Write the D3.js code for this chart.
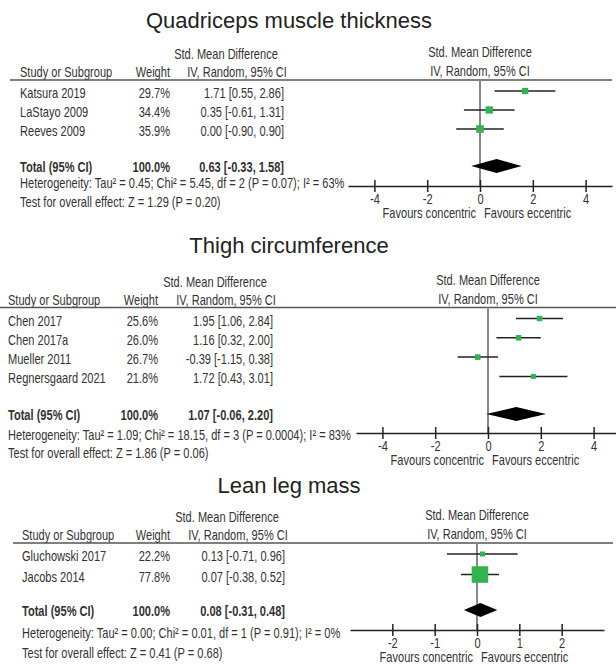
<!DOCTYPE html>
<html>
<head>
<meta charset="utf-8">
<script src="https://cdn.jsdelivr.net/npm/d3@7"></script>
<style>
    body { margin: 0; background: #fff; }
    svg text { fill: #333; }
    .title { font-family: 'Liberation Sans', Arial, sans-serif; font-size: 22px; fill: #222; }
    .cell { font-family: 'Liberation Sans', Arial, sans-serif; font-size: 14px; }
    .bold { font-weight: bold; }
</style>
</head>
<body>
<div id="chart"></div>
<script>

// DATA

var panelTitles = [ 'Quadriceps muscle thickness', 'Thigh circumference', 'Lean leg mass' ];

var quadStudies = [ 'Katsura 2019', 'LaStayo 2009', 'Reeves 2009' ];
var quadWeights = [ 29.7, 34.4, 35.9 ];
var quadSmd     = [ 1.71, 0.35, 0.00 ];
var quadLower   = [ 0.55, -0.61, -0.90 ];
var quadUpper   = [ 2.86, 1.31, 0.90 ];

var thighStudies = [ 'Chen 2017', 'Chen 2017a', 'Mueller 2011', 'Regnersgaard 2021' ];
var thighWeights = [ 25.6, 26.0, 26.7, 21.8 ];
var thighSmd     = [ 1.95, 1.16, -0.39, 1.72 ];
var thighLower   = [ 1.06, 0.32, -1.15, 0.43 ];
var thighUpper   = [ 2.84, 2.00, 0.38, 3.01 ];

var leanStudies = [ 'Gluchowski 2017', 'Jacobs 2014' ];
var leanWeights = [ 22.2, 77.8 ];
var leanSmd     = [ 0.13, 0.07 ];
var leanLower   = [ -0.71, -0.38 ];
var leanUpper   = [ 0.96, 0.52 ];

var totalSmd   = [ 0.63, 1.07, 0.08 ];
var totalLower = [ -0.33, -0.06, -0.31 ];
var totalUpper = [ 1.58, 2.20, 0.48 ];

var heterogeneity = [
    'Heterogeneity: Tau\u00b2 = 0.45; Chi\u00b2 = 5.45, df = 2 (P = 0.07); I\u00b2 = 63%',
    'Heterogeneity: Tau\u00b2 = 1.09; Chi\u00b2 = 18.15, df = 3 (P = 0.0004); I\u00b2 = 83%',
    'Heterogeneity: Tau\u00b2 = 0.00; Chi\u00b2 = 0.01, df = 1 (P = 0.91); I\u00b2 = 0%'
];
var overallEffect = [
    'Test for overall effect: Z = 1.29 (P = 0.20)',
    'Test for overall effect: Z = 1.86 (P = 0.06)',
    'Test for overall effect: Z = 0.41 (P = 0.68)'
];

var quadTicks  = [ -4, -2, 0, 2, 4 ];
var thighTicks = [ -4, -2, 0, 2, 4 ];
var leanTicks  = [ -2, -1, 0, 1, 2 ];
var axisDomains = [ [-5, 5], [-5, 5], [-3, 3] ];


// LAYOUT (pixel positions for each panel)

var panels = [
    { studies: quadStudies, weights: quadWeights, smd: quadSmd, lower: quadLower, upper: quadUpper, ticks: quadTicks,
      titleY: 28, lineY: 80, lineX: [10, 612], rowStep: 19, totalY: 166, hetY: 188, testY: 207, axisY: 186,
      studyX: 20, weightX: 170, ciX: 284, range: [348, 612] },
    { studies: thighStudies, weights: thighWeights, smd: thighSmd, lower: thighLower, upper: thighUpper, ticks: thighTicks,
      titleY: 253, lineY: 307.5, lineX: [0, 616], rowStep: 19.3, totalY: 414, hetY: 440, testY: 458, axisY: 433,
      studyX: 8, weightX: 158, ciX: 273, range: [356, 620] },
    { studies: leanStudies, weights: leanWeights, smd: leanSmd, lower: leanLower, upper: leanUpper, ticks: leanTicks,
      titleY: 493, lineY: 543, lineX: [13, 613], rowStep: 20.5, totalY: 610, hetY: 638, testY: 658, axisY: 630,
      studyX: 22, weightX: 170, ciX: 285, range: [350, 604] }
];

var width = 616;
var height = 664;

var squareColor = '#2fb44f';

// The table font is a narrow sans; squeeze a regular one to match
var narrow = 0.79;


// HELPERS

function fmt( v ) {
    return v.toFixed( 2 );
}

function ciText( m, lo, hi ) {
    return fmt( m ) + ' [' + fmt( lo ) + ', ' + fmt( hi ) + ']';
}

// Adds a narrow table text at (x, y)
function cell( g, x, y, str, anchor, bold ) {
    return g.append( 'text' )
            .attr( 'class', bold ? 'cell bold' : 'cell' )
            .attr( 'transform', 'translate(' + x + ',' + y + ') scale(' + narrow + ',1)' )
            .attr( 'text-anchor', anchor || 'start' )
            .text( str );
}

// Square side grows with study weight
var squareSize = d3.scaleLinear().domain( [0, 80] ).range( [0, 17] );

function side( w ) {
    return Math.max( 5, squareSize( w ) );
}


// DRAW

var svg = d3.select( '#chart' ).append( 'svg' )
                                .attr( 'width', width )
                                .attr( 'height', height );

svg.append( 'rect' )
    .attr( 'width', width )
    .attr( 'height', height )
    .attr( 'fill', '#fff' );

panels.forEach( function( p, pi ) {

    var g = svg.append( 'g' );

    var x = d3.scaleLinear()
                .domain( axisDomains[pi] )
                .range( p.range );

    var x0 = x( 0 );

    // Title
    g.append( 'text' )
        .attr( 'class', 'title' )
        .attr( 'x', 289 )
        .attr( 'y', p.titleY )
        .attr( 'text-anchor', 'middle' )
        .text( panelTitles[pi] );

    // Header texts
    var h1 = p.lineY - 21;
    var h2 = p.lineY - 3;
    var ivCenter = p.ciX - 47;

    cell( g, ivCenter - 11, h1, 'Std. Mean Difference', 'middle' );
    cell( g, p.studyX, h2, 'Study or Subgroup' );
    cell( g, p.weightX, h2, 'Weight', 'end' );
    cell( g, ivCenter, h2, 'IV, Random, 95% CI', 'middle' );

    cell( g, x0, h1 - 2, 'Std. Mean Difference', 'middle' );
    cell( g, x0, h2 - 1, 'IV, Random, 95% CI', 'middle' );

    // Header rule
    g.append( 'line' )
        .attr( 'x1', p.lineX[0] ).attr( 'x2', p.lineX[1] )
        .attr( 'y1', p.lineY ).attr( 'y2', p.lineY )
        .attr( 'stroke', '#555' )
        .attr( 'stroke-width', 1.6 );

    // Study rows
    var rows = p.studies.map( function( s, i ) {
        return {
            study: s,
            weight: p.weights[i],
            smd: p.smd[i],
            lower: p.lower[i],
            upper: p.upper[i],
            y: p.lineY + 11 + i * p.rowStep
        };
    } );

    rows.forEach( function( d ) {
        cell( g, p.studyX, d.y + 7, d.study );
        cell( g, p.weightX, d.y + 7, d.weight.toFixed( 1 ) + '%', 'end' );
        cell( g, p.ciX, d.y + 7, ciText( d.smd, d.lower, d.upper ), 'end' );
    } );

    // Totals
    var ty = p.totalY + 6;
    cell( g, p.studyX, ty, 'Total (95% CI)', 'start', true );
    cell( g, p.weightX, ty, '100.0%', 'end', true );
    cell( g, p.ciX, ty, ciText( totalSmd[pi], totalLower[pi], totalUpper[pi] ), 'end', true );

    cell( g, p.studyX, p.hetY, heterogeneity[pi] );
    cell( g, p.studyX, p.testY, overallEffect[pi] );

    // Line of no effect
    g.append( 'line' )
        .attr( 'x1', x0 ).attr( 'x2', x0 )
        .attr( 'y1', p.lineY ).attr( 'y2', p.axisY )
        .attr( 'stroke', '#888' )
        .attr( 'stroke-width', 2 );

    var marks = g.selectAll( '.mark' ).data( rows ).enter().append( 'g' ).attr( 'class', 'mark' );

    // Confidence intervals
    marks.append( 'line' )
        .attr( 'x1', function( d ) { return x( d.lower ); } )
        .attr( 'x2', function( d ) { return x( d.upper ); } )
        .attr( 'y1', function( d ) { return d.y; } )
        .attr( 'y2', function( d ) { return d.y; } )
        .attr( 'stroke', '#222' )
        .attr( 'stroke-width', 1.5 );

    // Weighted squares
    marks.append( 'rect' )
        .attr( 'x', function( d ) { return x( d.smd ) - side( d.weight ) / 2; } )
        .attr( 'y', function( d ) { return d.y - side( d.weight ) / 2; } )
        .attr( 'width', function( d ) { return side( d.weight ); } )
        .attr( 'height', function( d ) { return side( d.weight ); } )
        .attr( 'fill', squareColor );

    // Pooled estimate diamond
    var dy = p.totalY;
    g.append( 'path' )
        .attr( 'd', 'M' + x( totalLower[pi] ) + ',' + dy +
                    'L' + x( totalSmd[pi] ) + ',' + ( dy - 7 ) +
                    'L' + x( totalUpper[pi] ) + ',' + dy +
                    'L' + x( totalSmd[pi] ) + ',' + ( dy + 7 ) + 'Z' )
        .attr( 'fill', '#000' );

    // Axis
    var axis = d3.axisBottom( x )
                    .tickValues( p.ticks )
                    .tickSize( 0 )
                    .tickPadding( 8 )
                    .tickFormat( function( d ) { return String( d ); } );

    var ag = g.append( 'g' )
                .attr( 'transform', 'translate(0,' + p.axisY + ')' )
                .call( axis );

    ag.select( '.domain' ).attr( 'stroke', '#222' ).attr( 'stroke-width', 1.5 );
    ag.selectAll( '.tick text' )
        .attr( 'class', 'cell' )
        .attr( 'fill', '#333' )
        .attr( 'transform', 'scale(' + narrow + ',1)' )
        .style( 'font-size', '14px' );

    // Tick marks cross the axis line
    ag.selectAll( '.tick' ).append( 'line' )
        .attr( 'y1', -6 ).attr( 'y2', 6 )
        .attr( 'stroke', '#222' )
        .attr( 'stroke-width', 1.5 );

    cell( g, x0 - 4, p.axisY + 32, 'Favours concentric', 'end' );
    cell( g, x0 + 4, p.axisY + 32, 'Favours eccentric' );

} );

</script>
</body>
</html>
